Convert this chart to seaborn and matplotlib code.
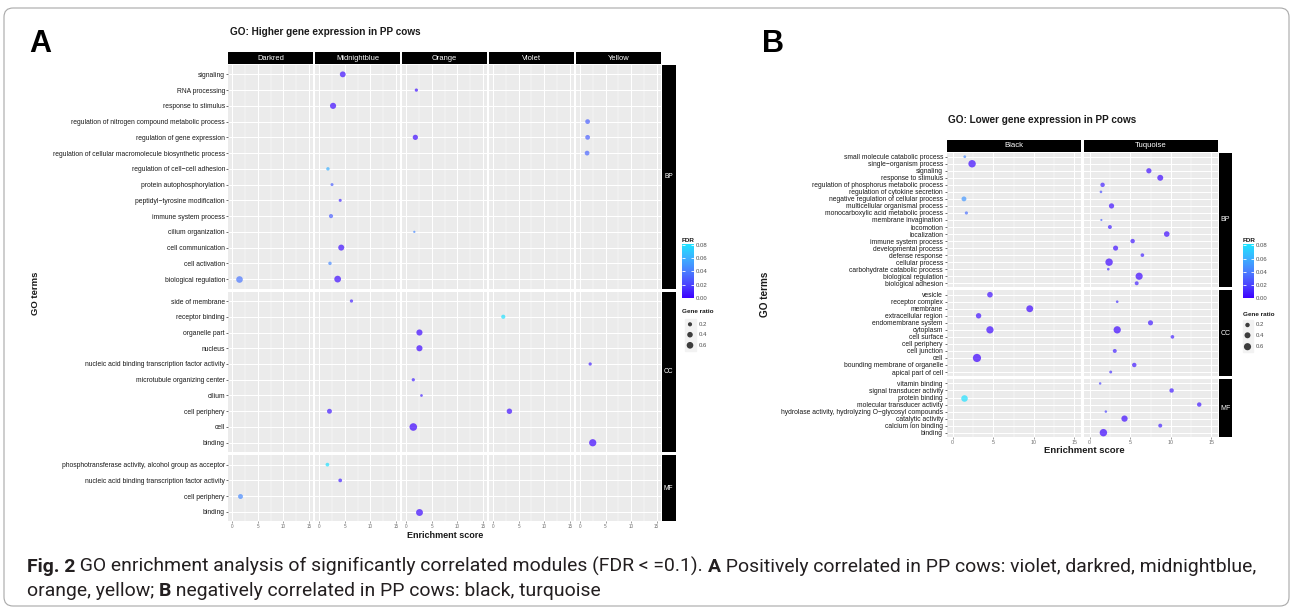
import numpy as np
import pandas as pd
import matplotlib
matplotlib.use("Agg")
import matplotlib.pyplot as plt
import matplotlib as mpl
from matplotlib.colors import LinearSegmentedColormap, Normalize
from matplotlib.patches import FancyBboxPatch, Rectangle
from matplotlib.font_manager import FontProperties
import seaborn as sns

plt.rcParams['font.family'] = ['Liberation Sans', 'DejaVu Sans']

W, H = 1292, 609

# ---------------- panel A: higher expression ----------------
a_modules = ["Darkred", "Midnightblue", "Orange", "Violet", "Yellow"]
a_bp = ["signaling", "RNA processing", "response to stimulus",
        "regulation of nitrogen compound metabolic process", "regulation of gene expression",
        "regulation of cellular macromolecule biosynthetic process", "regulation of cell−cell adhesion",
        "protein autophosphorylation", "peptidyl−tyrosine modification", "immune system process",
        "cilium organization", "cell communication", "cell activation", "biological regulation"]
a_cc = ["side of membrane", "receptor binding", "organelle part", "nucleus",
        "nucleic acid binding transcription factor activity", "microtubule organizing center",
        "cilium", "cell periphery", "cell", "binding"]
a_mf = ["phosphotransferase activity, alcohol group as acceptor",
        "nucleic acid binding transcription factor activity", "cell periphery", "binding"]

a_term = ["signaling", "RNA processing", "response to stimulus",
          "regulation of nitrogen compound metabolic process", "regulation of gene expression",
          "regulation of gene expression", "regulation of cellular macromolecule biosynthetic process",
          "regulation of cell−cell adhesion", "protein autophosphorylation", "peptidyl−tyrosine modification",
          "immune system process", "cilium organization", "cell communication", "cell activation",
          "biological regulation", "biological regulation",
          "side of membrane", "receptor binding", "organelle part", "nucleus",
          "nucleic acid binding transcription factor activity", "microtubule organizing center", "cilium",
          "cell periphery", "cell periphery", "cell", "binding",
          "phosphotransferase activity, alcohol group as acceptor",
          "nucleic acid binding transcription factor activity", "cell periphery", "binding"]
a_cat = ["BP"] * 16 + ["CC"] * 11 + ["MF"] * 4
a_module = ["Midnightblue", "Orange", "Midnightblue", "Yellow", "Orange", "Yellow", "Yellow",
            "Midnightblue", "Midnightblue", "Midnightblue", "Midnightblue", "Orange", "Midnightblue",
            "Midnightblue", "Darkred", "Midnightblue",
            "Midnightblue", "Violet", "Orange", "Orange", "Yellow", "Orange", "Orange",
            "Midnightblue", "Violet", "Orange", "Yellow",
            "Midnightblue", "Midnightblue", "Darkred", "Orange"]
a_score = [4.6, 2.0, 2.7, 1.5, 1.8, 1.5, 1.4, 1.7, 2.5, 4.1, 2.3, 1.6, 4.3, 2.1, 1.3, 3.6,
           6.3, 2.0, 2.6, 2.6, 2.0, 1.4, 3.0, 2.0, 3.2, 1.4, 2.5,
           1.6, 4.1, 1.45, 2.6]
a_ratio = [0.45, 0.10, 0.50, 0.28, 0.35, 0.28, 0.28, 0.12, 0.08, 0.08, 0.20, 0.02, 0.48, 0.12, 0.60, 0.62,
           0.10, 0.20, 0.50, 0.50, 0.10, 0.10, 0.05, 0.30, 0.38, 0.80, 0.72,
           0.15, 0.15, 0.30, 0.65]
a_fdr = [0.005, 0.006, 0.003, 0.030, 0.004, 0.030, 0.032, 0.060, 0.030, 0.012, 0.030, 0.045, 0.005,
         0.045, 0.038, 0.004,
         0.010, 0.080, 0.002, 0.002, 0.010, 0.010, 0.010, 0.008, 0.005, 0.001, 0.002,
         0.080, 0.010, 0.045, 0.003]

# ---------------- panel B: lower expression ----------------
b_modules = ["Black", "Tuquoise"]
b_bp = ["small molecule catabolic process", "single−organism process", "signaling", "response to stimulus",
        "regulation of phosphorus metabolic process", "regulation of cytokine secretion",
        "negative regulation of cellular process", "multicellular organismal process",
        "monocarboxylic acid metabolic process", "membrane invagination", "locomotion", "localization",
        "immune system process", "developmental process", "defense response", "cellular process",
        "carbohydrate catabolic process", "biological regulation", "biological adhesion"]
b_cc = ["vesicle", "receptor complex", "membrane", "extracellular region", "endomembrane system",
        "cytoplasm", "cell surface", "cell periphery", "cell junction", "cell",
        "bounding membrane of organelle", "apical part of cell"]
b_mf = ["vitamin binding", "signal transducer activity", "protein binding", "molecular transducer activity",
        "hydrolase activity, hydrolyzing O−glycosyl compounds", "catalytic activity",
        "calcium ion binding", "binding"]

b_term = b_bp + ["vesicle", "receptor complex", "membrane", "extracellular region", "endomembrane system",
                 "cytoplasm", "cytoplasm", "cell surface", "cell junction", "cell",
                 "bounding membrane of organelle", "apical part of cell"] + b_mf
b_cat = ["BP"] * 19 + ["CC"] * 12 + ["MF"] * 8
b_module = ["Black", "Black", "Tuquoise", "Tuquoise", "Tuquoise", "Tuquoise", "Black", "Tuquoise",
            "Black", "Tuquoise", "Tuquoise", "Tuquoise", "Tuquoise", "Tuquoise", "Tuquoise", "Tuquoise",
            "Tuquoise", "Tuquoise", "Tuquoise",
            "Black", "Tuquoise", "Black", "Black", "Tuquoise", "Black", "Tuquoise", "Tuquoise",
            "Tuquoise", "Black", "Tuquoise", "Tuquoise",
            "Tuquoise", "Tuquoise", "Black", "Tuquoise", "Tuquoise", "Tuquoise", "Tuquoise", "Tuquoise"]
b_score = [1.5, 2.4, 7.3, 8.7, 1.6, 1.4, 1.4, 2.7, 1.7, 1.45, 2.5, 9.5, 5.3, 3.2, 6.5, 2.4, 2.3, 6.1, 5.8,
           4.6, 3.4, 9.5, 3.2, 7.5, 4.6, 3.4, 10.2, 3.1, 3.0, 5.5, 2.6,
           1.3, 10.1, 1.4, 13.5, 2.0, 4.3, 8.7, 1.7]
b_ratio = [0.05, 0.65, 0.30, 0.40, 0.20, 0.04, 0.25, 0.30, 0.08, 0.01, 0.15, 0.35, 0.20, 0.28, 0.12, 0.65,
           0.04, 0.60, 0.15,
           0.35, 0.04, 0.55, 0.32, 0.28, 0.62, 0.62, 0.12, 0.15, 0.80, 0.20, 0.06,
           0.03, 0.20, 0.50, 0.20, 0.03, 0.45, 0.15, 0.65]
b_fdr = [0.045, 0.003, 0.005, 0.003, 0.010, 0.025, 0.050, 0.005, 0.035, 0.030, 0.010, 0.003, 0.008,
         0.005, 0.010, 0.002, 0.015, 0.002, 0.010,
         0.005, 0.015, 0.002, 0.005, 0.008, 0.003, 0.002, 0.010, 0.010, 0.000, 0.008, 0.015,
         0.020, 0.008, 0.080, 0.008, 0.020, 0.003, 0.010, 0.002]

fdr_ticks = [0.00, 0.02, 0.04, 0.06, 0.08]
ratio_ticks = [0.2, 0.4, 0.6]

df_a = pd.DataFrame({"term": a_term, "cat": a_cat, "module": a_module,
                     "score": a_score, "ratio": a_ratio, "fdr": a_fdr})
df_b = pd.DataFrame({"term": b_term, "cat": b_cat, "module": b_module,
                     "score": b_score, "ratio": b_ratio, "fdr": b_fdr})

fdr_cmap = LinearSegmentedColormap.from_list(
    "fdr", ["#3D00FF", "#4B45FF", "#4A80FF", "#3BB3FF", "#1DE5FF"])
fdr_norm = (0, 0.082)

fig = plt.figure(figsize=(W / 100, H / 100), dpi=100)

# background axes in pixel coordinates (texts, frame, legends)
bg = fig.add_axes([0, 0, 1, 1])
bg.axis("off")


def box(x0, y0, x1, y1):
    return [x0 / W, 1 - y1 / H, (x1 - x0) / W, (y1 - y0) / H]


def strip(x0, y0, x1, y1, label, fs):
    s = fig.add_axes(box(x0, y0, x1, y1))
    s.add_patch(Rectangle((0, 0), 1, 1, color="black"))
    s.set_xlim(0, 1)
    s.set_ylim(0, 1)
    s.axis("off")
    s.text(0.5, 0.5, label, color="white", fontsize=fs, ha="center", va="center")


def draw_facets(df, modules, rows, left, right, top, unit, xgap, ygap, strip_top, strip_x1,
                lab_fs, tick_fs, strip_fs, sizes):
    ncol = len(modules)
    pw = (right - left - xgap * (ncol - 1)) / ncol
    y = top
    for r, (cat, terms) in enumerate(rows):
        n = len(terms)
        ph = (n + 0.2) * unit
        pos = {t: n - i for i, t in enumerate(terms)}
        for c, mod in enumerate(modules):
            x0 = left + c * (pw + xgap)
            ax = fig.add_axes(box(x0, y, x0 + pw, y + ph))
            ax.set_facecolor("#EBEBEB")
            sub = df[(df["cat"] == cat) & (df["module"] == mod)].copy()
            if len(sub):
                sub["ypos"] = sub["term"].map(pos)
                sns.scatterplot(data=sub, x="score", y="ypos", hue="fdr", palette=fdr_cmap,
                                hue_norm=fdr_norm, size="ratio", sizes=sizes, size_norm=(0, 1),
                                alpha=0.7, linewidth=0, legend=False, ax=ax, zorder=3)
            ax.set_xlim(-0.75, 15.75)
            ax.set_ylim(0.4, n + 0.6)
            ax.set_xticks([0, 5, 10, 15])
            ax.set_xticks([2.5, 7.5, 12.5], minor=True)
            ax.set_yticks(range(1, n + 1))
            ax.grid(True, which="major", color="white", linewidth=0.75)
            ax.grid(True, which="minor", axis="x", color="white", linewidth=0.35)
            ax.set_axisbelow(True)
            for sp in ax.spines.values():
                sp.set_visible(False)
            ax.set_xlabel("")
            ax.set_ylabel("")
            ax.tick_params(which="minor", length=0)
            if c == 0:
                ax.set_yticklabels(terms[::-1])
                ax.tick_params(axis="y", length=1.6, width=0.5, color="#333333", pad=1,
                               labelsize=lab_fs, labelcolor="#1A1A1A")
            else:
                ax.tick_params(axis="y", left=False, labelleft=False)
            if r == len(rows) - 1:
                ax.set_xticklabels(["0", "5", "10", "15"])
                ax.tick_params(axis="x", length=1.2, width=0.4, color="#555555", pad=1,
                               labelsize=tick_fs, labelcolor="#6E6E6E")
            else:
                ax.tick_params(axis="x", bottom=False, labelbottom=False)
            if r == 0:
                strip(x0, strip_top, x0 + pw, top - 0.6, mod, strip_fs)
        strip(right + 1, y, strip_x1, y + ph, cat, strip_fs - 0.6)
        y += ph + ygap


# panel A facets
draw_facets(df_a, a_modules, [("BP", a_bp), ("CC", a_cc), ("MF", a_mf)],
            left=228.5, right=660.5, top=64.9, unit=15.75, xgap=2.5, ygap=3,
            strip_top=52.3, strip_x1=676, lab_fs=4.9, tick_fs=3.3, strip_fs=5.4,
            sizes=(2, 37))
# panel B facets
draw_facets(df_b, b_modules, [("BP", b_bp), ("CC", b_cc), ("MF", b_mf)],
            left=946.5, right=1217.5, top=152.5, unit=7.03, xgap=3, ygap=3,
            strip_top=140, strip_x1=1232, lab_fs=4.9, tick_fs=3.8, strip_fs=5.6,
            sizes=(2, 43))


def legend(x_bar, y_bar0, y_bar1, bar_w, y_title1, y_title2, dot_x, dot_y, lab_x, sizes):
    bg.text(x_bar, y_title1, "FDR", fontsize=4.6, fontweight="bold", color="#1A1A1A",
            ha="left", va="center")
    cax = fig.add_axes(box(x_bar, y_bar0, x_bar + bar_w, y_bar1))
    cb = mpl.colorbar.ColorbarBase(cax, cmap=fdr_cmap, norm=Normalize(*fdr_norm))
    cb.outline.set_visible(False)
    cax.set_yticks(fdr_ticks)
    cax.set_yticklabels([f"{v:.2f}" for v in fdr_ticks])
    cax.tick_params(direction="in", color="white", length=2.2, width=0.6, left=True, right=True,
                    labelsize=4.3, labelcolor="#4D4D4D", pad=1.5)
    bg.text(x_bar, y_title2, "Gene ratio", fontsize=4.6, fontweight="bold", color="#1A1A1A",
            ha="left", va="center")
    bg.add_patch(Rectangle((dot_x - 5, dot_y[0] - 5.5), 10.5, dot_y[-1] - dot_y[0] + 11,
                           color="#F2F2F2", zorder=1))
    sns.scatterplot(x=[dot_x] * 3, y=dot_y, size=ratio_ticks, sizes=sizes, size_norm=(0, 1),
                    color="black", alpha=0.75, linewidth=0, legend=False, ax=bg, zorder=3)
    for yy, v in zip(dot_y, ratio_ticks):
        bg.text(lab_x, yy, f"{v:.1f}", fontsize=4.3, color="#4D4D4D", ha="left", va="center")


legend(682, 243.5, 298, 12, 240, 311.7, 690, [324.3, 334.7, 345.3], 698.5, (2, 37))
legend(1243, 244, 298.3, 10.5, 240, 315, 1247.5, [325, 335.3, 346.7], 1255.3, (2, 43))

# titles and axis labels
bg.text(230, 35.3, "GO: Higher gene expression in PP cows", fontsize=7.2, fontweight="bold",
        color="#1A1A1A", ha="left", va="baseline")
bg.text(948, 122.6, "GO: Lower gene expression in PP cows", fontsize=7.2, fontweight="bold",
        color="#1A1A1A", ha="left", va="baseline")
bg.text(445, 537.8, "Enrichment score", fontsize=6.5, fontweight="bold", color="#1A1A1A",
        ha="center", va="baseline")
bg.text(1084, 452.8, "Enrichment score", fontsize=6.8, fontweight="bold", color="#1A1A1A",
        ha="center", va="baseline")
bg.text(35, 293, "GO terms", fontsize=6.8, fontweight="bold", color="#1A1A1A",
        rotation=90, ha="center", va="center")
bg.text(765.5, 294, "GO terms", fontsize=7.2, fontweight="bold", color="#1A1A1A",
        rotation=90, ha="center", va="center")
bg.text(29, 52.5, "A", fontsize=22, fontweight="bold", color="black", ha="left", va="baseline")
bg.text(762, 52.5, "B", fontsize=22, fontweight="bold", color="black", ha="left", va="baseline")

# outer frame
bg.add_patch(FancyBboxPatch((4, 8), 1285, 598, boxstyle="round,pad=0,rounding_size=9",
                            fill=False, edgecolor="#A8A8A8", linewidth=0.8))

# caption with mixed bold / regular runs
cap_family = ["Liberation Sans Narrow", "Roboto", "Liberation Sans", "DejaVu Sans"]
cap_line1 = [("Fig. 2", True), (" GO enrichment analysis of significantly correlated modules (FDR < =0.1). ", False),
             ("A", True), (" Positively correlated in PP cows: violet, darkred, midnightblue,", False)]
cap_line2 = [("orange, yellow; ", False), ("B", True),
             (" negatively correlated in PP cows: black, turquoise", False)]
renderer = fig.canvas.get_renderer()


def run_width(s, size, bold):
    fp = FontProperties(family=cap_family, size=size, weight="bold" if bold else "normal")
    w1 = renderer.get_text_width_height_descent("|" + s + "|", fp, ismath=False)[0]
    w2 = renderer.get_text_width_height_descent("||", fp, ismath=False)[0]
    return w1 - w2


cap_size = 10 * 1230 / sum(run_width(s, 10, b) for s, b in cap_line1)
for pieces, base in [(cap_line1, 572), (cap_line2, 596)]:
    x = 27
    for s, b in pieces:
        bg.text(x, base, s, fontsize=cap_size, fontweight="bold" if b else "normal",
                family=cap_family, color="#231F20", ha="left", va="baseline")
        x += run_width(s, cap_size, b)

bg.set_xlim(0, W)
bg.set_ylim(H, 0)

fig.savefig("out.png", dpi=100)
